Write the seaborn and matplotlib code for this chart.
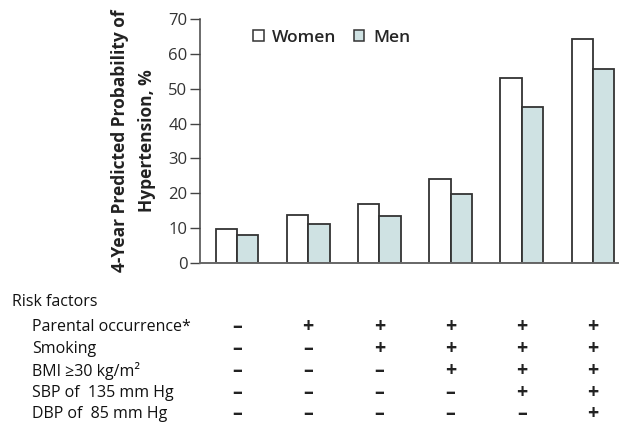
import pandas as pd
import matplotlib
matplotlib.use("Agg")
import matplotlib.pyplot as plt
import matplotlib.transforms as mtransforms
from matplotlib.patches import Patch
import seaborn as sns

# values
groups = ["G1", "G2", "G3", "G4", "G5", "G6"]
women = [9.7, 13.9, 16.8, 24.0, 53.0, 64.3]
men = [8.0, 11.3, 13.5, 19.9, 44.7, 55.8]

risk_factors = ["Parental occurrence*", "Smoking", "BMI \u226530 kg/m\u00b2",
                "SBP of  135 mm Hg", "DBP of  85 mm Hg"]
# 1 = factor present (+), 0 = absent (-), one list per group
factor_table = [
    [0, 0, 0, 0, 0],
    [1, 0, 0, 0, 0],
    [1, 1, 0, 0, 0],
    [1, 1, 1, 0, 0],
    [1, 1, 1, 1, 0],
    [1, 1, 1, 1, 1],
]
yticks = [0, 10, 20, 30, 40, 50, 60, 70]

df = pd.DataFrame({
    "Group": groups * 2,
    "Sex": ["Women"] * len(groups) + ["Men"] * len(groups),
    "Value": women + men,
})

sns.set_style("white")
plt.rcParams["font.family"] = ["Open Sans", "DejaVu Sans"]

colors = {"Women": "#ffffff", "Men": "#cfe2e3"}
edge = "#333333"

fig = plt.figure(figsize=(6.21, 4.28), dpi=100)
ax = fig.add_axes([0.322, 0.3855, 0.673, 0.570])

sns.barplot(data=df, x="Group", y="Value", hue="Sex", palette=colors,
            saturation=1, width=0.6, edgecolor=edge, linewidth=1.3,
            legend=False, ax=ax)

ax.set_xlim(-0.52, 5.35)
ax.set_ylim(0, 70)
ax.set_yticks(yticks)
ax.set_xticks([])
ax.set_xlabel("")
ax.set_ylabel("4-Year Predicted Probability of\nHypertension, %",
              fontsize=12.5, fontweight="bold", color="#222222",
              linespacing=1.6, labelpad=9)
ax.tick_params(axis="y", direction="out", length=7, width=1,
               color="#444444", labelsize=12, labelcolor="#333333", pad=2,
               left=True)
sns.despine(ax=ax, top=True, right=True)
ax.spines["left"].set_color("#444444")
ax.spines["bottom"].set_color("#666666")
ax.spines["left"].set_linewidth(1.1)
ax.spines["bottom"].set_linewidth(1.4)

handles = [Patch(facecolor=colors[s], edgecolor=edge, linewidth=1.1, label=s)
           for s in ["Women", "Men"]]
ax.legend(handles=handles, loc="upper left", bbox_to_anchor=(0.09, 1.02),
          ncol=2, frameon=False, handlelength=0.6, handleheight=0.6,
          handletextpad=0.5, columnspacing=1.0,
          prop={"size": 12.5, "weight": "semibold"})

# risk factor table below the axis
row_y = [0.236, 0.1846, 0.133, 0.0818, 0.0327]
fig.text(0.019, 0.2944, "Risk factors", fontsize=11.5, color="#111111", va="center")
trans = mtransforms.blended_transform_factory(ax.transData, fig.transFigure)
for r, name in enumerate(risk_factors):
    fig.text(0.052, row_y[r], name, fontsize=11.5, color="#111111", va="center")
    for g in range(len(groups)):
        sym = "+" if factor_table[g][r] else "\u2013"
        ax.text(g, row_y[r], sym, transform=trans, ha="center", va="center",
                fontsize=14, fontweight="bold", color="#222222")

fig.savefig("out.png", dpi=100)
